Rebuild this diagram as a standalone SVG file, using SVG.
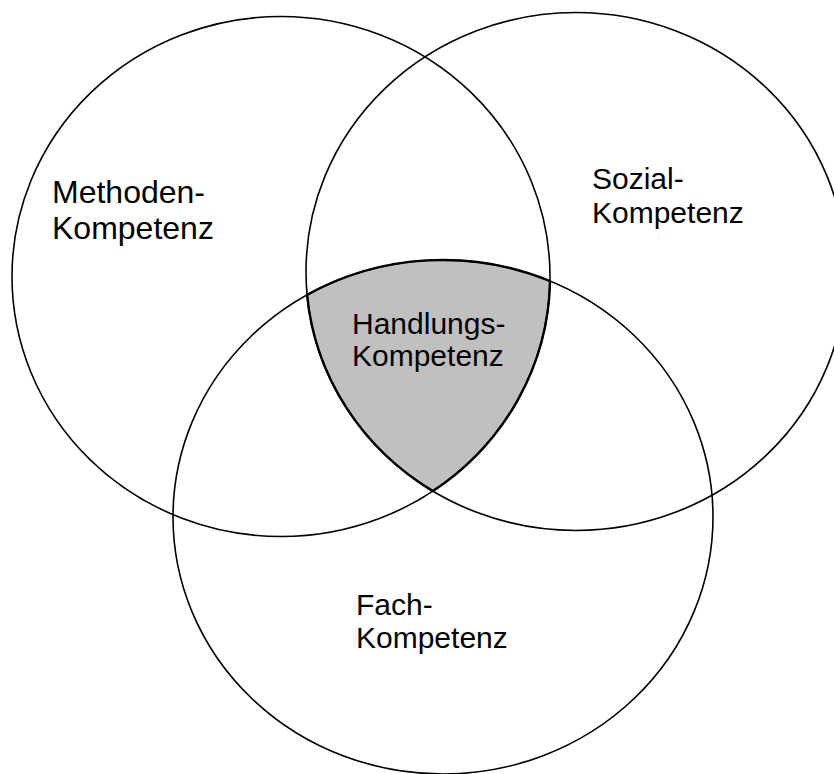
<svg xmlns="http://www.w3.org/2000/svg" width="834" height="774" viewBox="0 0 834 774">
<style>
.c{fill:none;stroke:#000;stroke-width:1.6}
.t{font-family:"Liberation Sans",Arial,sans-serif;fill:#000}
</style>
<rect width="834" height="774" fill="#fff"/>
<g id="handlungs">
<path d="M307.1,294.9 A270,257 0 0 1 550,281 A269,260 0 0 1 432.9,491.1 A270,259 0 0 1 307.1,294.9 Z" fill="#c0c0c0" stroke="#000" stroke-width="2.4" stroke-linejoin="round"/>
</g>
<g id="methoden">
<ellipse class="c" cx="281" cy="276.5" rx="269" ry="260"/>
<text class="t" font-size="32"><tspan x="52" y="203.3">Methoden-</tspan><tspan x="52" y="238.7">Kompetenz</tspan></text>
</g>
<g id="sozial">
<ellipse class="c" cx="576" cy="271.5" rx="270" ry="259"/>
<text class="t" font-size="30"><tspan x="592" y="189">Sozial-</tspan><tspan x="592" y="223.3">Kompetenz</tspan></text>
</g>
<g id="fach">
<ellipse class="c" cx="443" cy="517" rx="270" ry="257"/>
<text class="t" font-size="30"><tspan x="356" y="615">Fach-</tspan><tspan x="356" y="648.3">Kompetenz</tspan></text>
</g>
<g id="handlungs-label">
<text class="t" font-size="30"><tspan x="352" y="334.3">Handlungs-</tspan><tspan x="352" y="365.5">Kompetenz</tspan></text>
</g>
<g id="connectors"/>
</svg>
